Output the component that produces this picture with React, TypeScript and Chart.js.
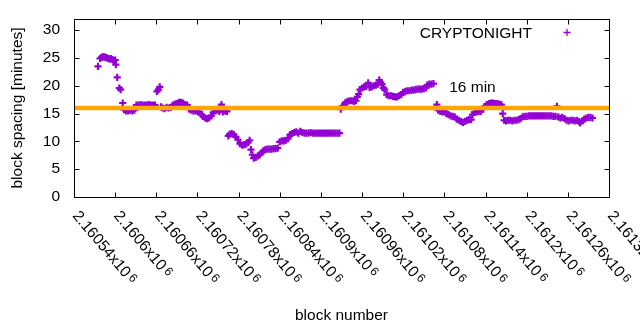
import React, { useEffect, useRef } from 'react';
import { Chart, registerables } from 'chart.js';

Chart.register(...registerables);

// ---- data ----
const BLOCK_BASE = 2160000;
const blockOffsets = [
  575, 578, 580, 582, 584, 586, 588, 590, 592, 594, 596, 598, 600, 601, 603, 606, 608, 611,
  613, 616, 619, 622, 625, 628,
  631, 634, 637, 640, 643, 646, 649, 652, 655, 658,
  661, 663, 665, 667,
  669, 672, 675, 678, 681,
  684, 687, 690, 693, 696, 699, 702, 705,
  708, 711, 714, 717, 720, 723, 726,
  728, 731, 734, 737, 740,
  743, 746, 749, 752, 755, 757, 760, 763,
  765, 767, 770, 773, 776, 779,
  782, 785, 788, 791, 794, 796, 798,
  800, 802, 805, 808, 811, 814,
  816, 819, 822, 825, 828, 831, 834, 837,
  840, 843, 846, 849, 852,
  855, 858, 861, 864, 867, 870, 873, 876,
  879, 882, 885, 888, 891, 894, 897, 900, 903, 906, 909, 912, 915, 918, 921, 924, 927,
  929, 931, 934,
  936, 939, 942, 945, 948, 951, 953,
  955, 957, 960, 963, 966, 969, 971, 974, 977, 980, 983, 985, 987, 989, 991, 993,
  996, 999, 1002, 1005, 1008, 1011, 1014, 1017,
  1020, 1023, 1026, 1029, 1032, 1035, 1038, 1041, 1044, 1047, 1050, 1053,
  1055, 1058, 1061, 1064,
  1069, 1071, 1074, 1077, 1080, 1083, 1086, 1089, 1092, 1095, 1098, 1101, 1104, 1107, 1110, 1113, 1116, 1119,
  1121, 1124, 1127, 1130, 1133, 1136,
  1139, 1142, 1145, 1148, 1151, 1154, 1157, 1160, 1163,
  1165, 1167, 1170, 1173, 1176, 1179, 1182, 1185, 1188, 1191,
  1194, 1197, 1200, 1203, 1206, 1209, 1212, 1215, 1218, 1221, 1224, 1227, 1230, 1233, 1236, 1239, 1242,
  1244, 1246, 1249, 1252, 1255,
  1258, 1261, 1264, 1267, 1270, 1273, 1276, 1278,
  1281, 1284, 1287, 1290, 1293, 1296,
];
const spacingMinutes = [
  23.5, 24.9, 25.1, 25.2, 25.2, 25.1, 25.0, 24.9, 24.8, 24.9, 24.7, 24.5, 24.6, 23.8, 21.5, 19.6, 19.3, 16.9,
  15.7, 15.5, 15.5, 15.6, 15.5, 15.6,
  16.5, 16.5, 16.6, 16.5, 16.5, 16.5, 16.6, 16.5, 16.5, 16.5,
  19.0, 19.3, 19.8, 16.2,
  16.0, 15.9, 16.1, 16.0, 16.1,
  16.5, 16.7, 16.8, 17.0, 17.0, 16.9, 16.6, 16.5,
  15.8, 15.6, 15.5, 15.5, 15.4, 15.3, 14.8,
  14.5, 14.2, 14.1, 14.2, 14.6,
  15.2, 15.5, 15.6, 15.4, 16.6, 15.3, 15.5, 15.4,
  11.0, 11.3, 11.4, 11.2, 10.8, 10.3,
  9.6, 9.3, 9.4, 9.5, 9.8, 10.2, 8.5,
  7.6, 7.0, 7.1, 7.4, 7.6, 8.0,
  8.3, 8.5, 8.6, 8.6, 8.6, 8.7, 8.7, 8.8,
  9.9, 10.1, 10.1, 10.2, 10.5,
  11.2, 11.4, 11.6, 11.7, 11.5, 11.8, 11.6, 11.5,
  11.5, 11.5, 11.6, 11.5, 11.5, 11.5, 11.5, 11.5, 11.5, 11.5, 11.5, 11.5, 11.5, 11.5, 11.5, 11.5, 11.5,
  15.8, 16.3, 16.5,
  17.0, 17.2, 17.3, 17.3, 17.2, 17.3, 18.0,
  18.5, 19.3, 19.6, 19.8, 19.9, 20.5, 19.7, 19.8, 20.0, 20.1, 20.3, 21.0, 20.6, 20.3, 19.6, 19.3,
  18.4, 18.2, 18.2, 18.1, 18.0, 18.0, 18.2, 18.4,
  18.8, 19.0, 19.1, 19.1, 19.2, 19.2, 19.3, 19.4, 19.4, 19.4, 19.5, 19.6,
  20.1, 20.3, 20.3, 20.4,
  16.6, 15.6, 15.4, 15.3, 15.3, 15.0, 14.8, 14.6, 14.5, 14.4, 14.0, 13.8, 13.6, 13.4, 13.6, 13.8, 13.9, 13.9,
  14.8, 15.2, 15.3, 15.4, 15.4, 15.8,
  16.3, 16.6, 16.8, 16.9, 16.9, 16.8, 16.8, 16.7, 16.6,
  15.0, 13.8, 13.7, 13.8, 13.8, 13.7, 13.8, 13.8, 13.9, 14.1,
  14.4, 14.5, 14.5, 14.6, 14.6, 14.6, 14.6, 14.6, 14.6, 14.6, 14.6, 14.6, 14.6, 14.6, 14.6, 14.5, 14.5,
  16.3, 14.4, 14.2, 14.3, 14.1,
  13.8, 13.7, 13.8, 13.8, 13.7, 13.8, 13.6, 13.3,
  13.7, 14.0, 14.2, 14.3, 14.3, 14.2,
];
const TARGET_MINUTES = 16;
const TARGET_LABEL_BLOCK = 2161087;
const X_MIN = 2160540;
const X_MAX = 2161320;
const xTickValues = [
  2160540, 2160600, 2160660, 2160720, 2160780, 2160840, 2160900,
  2160960, 2161020, 2161080, 2161140, 2161200, 2161260, 2161320,
];
const xTickLabels = [
  '2.16054x10', '2.1606x10', '2.16066x10', '2.16072x10', '2.16078x10', '2.16084x10', '2.1609x10',
  '2.16096x10', '2.16102x10', '2.16108x10', '2.16114x10', '2.1612x10', '2.16126x10', '2.16132x10',
];
const X_TICK_EXPONENT = '6';
const Y_MIN = 0;
const Y_MAX = 32;
const yTickValues = [0, 5, 10, 15, 20, 25, 30];
const SERIES_LABEL = 'CRYPTONIGHT';
const TARGET_LABEL = '16 min';
const X_TITLE = 'block number';
const Y_TITLE = 'block spacing [minutes]';

// ---- style ----
const FONT_FAMILY = '"Liberation Sans", Arial, sans-serif';
const FONT_SIZE = 15.5;
const PURPLE = '#9400d3';
const ORANGE = '#ffa500';

const gnuplotPlugin = {
  id: 'gnuplotDecor',
  afterDatasetsDraw(chart: any) {
    const { ctx, chartArea: a, scales } = chart;
    const xs = scales.x;
    const ys = scales.y;
    const L = Math.round(a.left) + 0.5;
    const R = Math.round(a.right) + 0.5;
    const T = Math.round(a.top) + 0.5;
    const B = Math.round(a.bottom) + 0.5;
    const TICK = 5;
    ctx.save();
    ctx.strokeStyle = '#000';
    ctx.lineWidth = 1;
    ctx.beginPath();
    ctx.rect(L, T, R - L, B - T);
    xTickValues.forEach((v) => {
      const px = Math.round(xs.getPixelForValue(v)) + 0.5;
      ctx.moveTo(px, B);
      ctx.lineTo(px, B - TICK);
      ctx.moveTo(px, T);
      ctx.lineTo(px, T + TICK);
    });
    yTickValues.forEach((v) => {
      const py = Math.round(ys.getPixelForValue(v)) + 0.5;
      ctx.moveTo(L, py);
      ctx.lineTo(L + TICK, py);
      ctx.moveTo(R, py);
      ctx.lineTo(R - TICK, py);
    });
    ctx.stroke();
    ctx.restore();
  },
  afterDraw(chart: any) {
    const { ctx, chartArea: a, scales } = chart;
    const xs = scales.x;
    const angle = (50 * Math.PI) / 180;
    ctx.save();
    ctx.fillStyle = '#000';
    ctx.textAlign = 'left';
    ctx.textBaseline = 'alphabetic';
    xTickValues.forEach((v, i) => {
      const px = xs.getPixelForValue(v);
      ctx.save();
      ctx.translate(px - 2, a.bottom + 19);
      ctx.rotate(angle);
      ctx.font = `${FONT_SIZE}px ${FONT_FAMILY}`;
      const label = xTickLabels[i];
      ctx.fillText(label, 0, 0);
      const w = ctx.measureText(label).width;
      ctx.font = `${FONT_SIZE * 0.78}px ${FONT_FAMILY}`;
      ctx.fillText(X_TICK_EXPONENT, w + 2.5, -3);
      ctx.restore();
    });

    // legend
    ctx.font = `${FONT_SIZE}px ${FONT_FAMILY}`;
    ctx.textAlign = 'right';
    ctx.fillText(SERIES_LABEL, a.right - 77, a.top + 18.5);
    const mx = a.right - 42;
    const my = a.top + 13.5;
    ctx.strokeStyle = PURPLE;
    ctx.lineWidth = 1.3;
    ctx.beginPath();
    ctx.moveTo(mx - 3.5, my);
    ctx.lineTo(mx + 3.5, my);
    ctx.moveTo(mx, my - 3.5);
    ctx.lineTo(mx, my + 3.5);
    ctx.stroke();

    // target label
    ctx.textAlign = 'left';
    ctx.fillStyle = '#000';
    ctx.fillText(TARGET_LABEL, xs.getPixelForValue(TARGET_LABEL_BLOCK), a.top + 72.5);
    ctx.restore();
  },
};

export default function App() {
  const canvasRef = useRef<HTMLCanvasElement | null>(null);

  useEffect(() => {
    document.body.style.margin = '0';
    const canvas = canvasRef.current;
    if (!canvas) return;
    const n = Math.min(blockOffsets.length, spacingMinutes.length);
    const points = [];
    for (let i = 0; i < n; i++) {
      points.push({ x: BLOCK_BASE + blockOffsets[i], y: spacingMinutes[i] });
    }
    const font = { family: FONT_FAMILY, size: FONT_SIZE };
    const chart = new Chart(canvas, {
      type: 'scatter',
      data: {
        datasets: [
          {
            type: 'line',
            label: TARGET_LABEL,
            data: [
              { x: X_MIN, y: TARGET_MINUTES },
              { x: X_MAX, y: TARGET_MINUTES },
            ],
            borderColor: ORANGE,
            backgroundColor: ORANGE,
            borderWidth: 4.5,
            borderCapStyle: 'square',
            pointRadius: 0,
            fill: false,
            order: 0,
          } as any,
          {
            label: SERIES_LABEL,
            data: points,
            pointStyle: 'cross',
            pointRadius: 3.6,
            borderColor: PURPLE,
            backgroundColor: PURPLE,
            borderWidth: 2.2,
            order: 1,
          } as any,
        ],
      },
      options: {
        responsive: false,
        animation: false,
        events: [],
        layout: { padding: { top: 19, right: 31, left: 0, bottom: 0 } },
        plugins: { legend: { display: false }, tooltip: { enabled: false } },
        scales: {
          x: {
            type: 'linear',
            min: X_MIN,
            max: X_MAX,
            afterBuildTicks: (s: any) => {
              s.ticks = xTickValues.map((v) => ({ value: v }));
            },
            afterFit: (s: any) => {
              s.height = 133;
              s.paddingLeft = 0;
              s.paddingRight = 0;
              s.paddingTop = 0;
              s.paddingBottom = 0;
            },
            ticks: { display: false },
            grid: { display: false, drawTicks: false },
            border: { display: false },
            title: {
              display: true,
              text: X_TITLE,
              color: '#000',
              font,
              padding: { top: 0, bottom: 5 },
            },
          },
          y: {
            type: 'linear',
            min: Y_MIN,
            max: Y_MAX,
            afterBuildTicks: (s: any) => {
              s.ticks = yTickValues.map((v) => ({ value: v }));
            },
            afterFit: (s: any) => {
              s.width = 74;
              s.paddingTop = 0;
              s.paddingBottom = 0;
              s.paddingLeft = 0;
              s.paddingRight = 0;
            },
            ticks: { color: '#000', font, padding: 14 },
            grid: { display: false, drawTicks: false },
            border: { display: false },
            title: {
              display: true,
              text: Y_TITLE,
              color: '#000',
              font,
              padding: { top: 8, bottom: 0 },
            },
          },
        },
      } as any,
      plugins: [gnuplotPlugin],
    });
    return () => chart.destroy();
  }, []);

  return (
    <div style={{ position: 'absolute', left: 0, top: 0, width: 640, height: 330, background: '#fff' }}>
      <canvas ref={canvasRef} width={640} height={330} style={{ display: 'block' }} />
    </div>
  );
}
